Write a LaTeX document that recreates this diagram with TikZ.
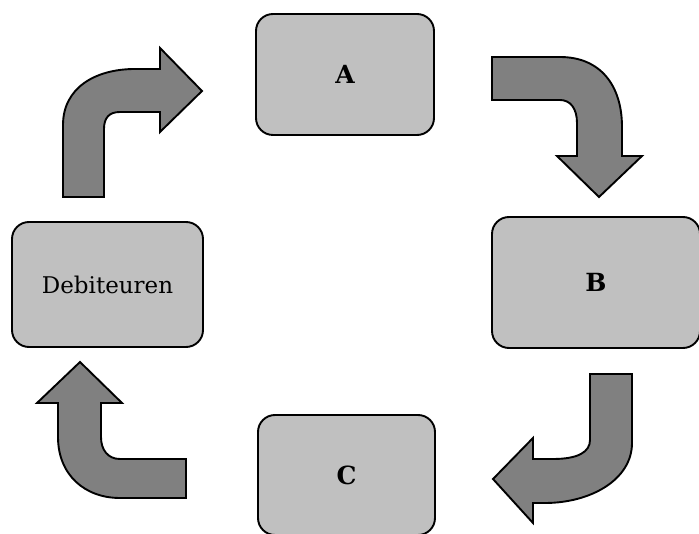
\documentclass[tikz,border=0pt]{standalone}
\usepackage{fontspec}
\setmainfont{DejaVu Serif}
\definecolor{boxgray}{HTML}{C0C0C0}
\definecolor{arrowgray}{HTML}{808080}
\begin{document}
\begin{tikzpicture}[x=1pt,y=-1pt,
  stagebox/.style={draw=black, line width=1.9pt, fill=boxgray, rounded corners=17pt,
    inner sep=0pt, font=\fontsize{23}{27}\selectfont},
  letterbox/.style={stagebox, font=\fontsize{25}{29}\selectfont\bfseries},
  blockarrow/.style={draw=black, line width=1.9pt, fill=arrowgray, line join=miter}]
\useasboundingbox (0,0) rectangle (699,534);
\node[letterbox, minimum width=178pt, minimum height=121pt] (A) at (345,74.5) {A};
\node[letterbox, minimum width=208pt, minimum height=131pt] (B) at (596,282.5) {B};
\node[letterbox, minimum width=177pt, minimum height=120pt] (C) at (346.5,475) {C};
\node[stagebox, minimum width=191pt, minimum height=125pt] (D) at (107.5,284.5) {Debiteuren};
% arrow Debiteuren -> A
\draw[blockarrow] (63,197) -- (63,125) .. controls (63,88) and (95,69) .. (135,69) -- (160,69)
  -- (160,48) -- (202,91) -- (160,132) -- (160,112) -- (120,112)
  .. controls (109,112) and (104,118) .. (104,129) -- (104,197) -- cycle;
% arrow A -> B
\draw[blockarrow] (492,57) -- (560,57) .. controls (600,57) and (622,85) .. (622,127)
  -- (622,156) -- (642,156) -- (599,197) -- (557,156) -- (577,156) -- (577,123)
  .. controls (577,108) and (570,100) .. (560,100) -- (492,100) -- cycle;
% arrow B -> C
\draw[blockarrow] (590,374) -- (632,374) -- (632,443) .. controls (632,480) and (590,503) .. (545,503)
  -- (533,503) -- (533,523) -- (493,479) -- (533,438) -- (533,459) -- (553,459)
  .. controls (578,459) and (590,452) .. (590,440) -- cycle;
% arrow C -> Debiteuren
\draw[blockarrow] (58,403) -- (58,437) .. controls (58,475) and (85,498) .. (120,498)
  -- (186,498) -- (186,459) -- (120,459) .. controls (108,459) and (101,450) .. (101,437)
  -- (101,403) -- (122,403) -- (80,362) -- (37,403) -- cycle;
\end{tikzpicture}
\end{document}
